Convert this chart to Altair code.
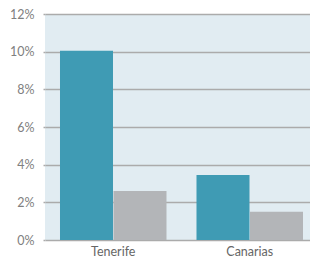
import altair as alt
import pandas as pd

categories = ["Tenerife", "Canarias"]
series = ["A", "B"]
values_a = [0.1005, 0.0345]
values_b = [0.026, 0.015]

rows = []
for i, c in enumerate(categories):
    rows.append({"cat": c, "serie": series[0], "val": values_a[i]})
    rows.append({"cat": c, "serie": series[1], "val": values_b[i]})
df = pd.DataFrame(rows)

chart = alt.Chart(df).mark_bar(size=53).encode(
    x=alt.X("cat:N", sort=categories, title=None,
            scale=alt.Scale(paddingInner=0.216, paddingOuter=0.108, range=[0, 273]),
            axis=alt.Axis(labelAngle=0, ticks=False, domain=False, grid=False,
                          labelColor="#666666",
                          labelFont="Lato", labelFontSize=12.5, labelPadding=5)),
    xOffset=alt.XOffset("serie:N", sort=series, scale=alt.Scale(paddingInner=0, paddingOuter=0)),
    y=alt.Y("val:Q", title=None,
            scale=alt.Scale(domain=[0, 0.12], nice=False),
            axis=alt.Axis(format=".0%", values=[0, 0.02, 0.04, 0.06, 0.08, 0.10, 0.12],
                          domain=False, tickSize=2, tickColor="#ABABAB", tickWidth=1.5,
                          grid=True, gridColor="#ABABAB", gridWidth=1.5,
                          labelColor="#808080", labelFont="Lato", labelFontSize=12.5,
                          labelPadding=9)),
    color=alt.Color("serie:N", sort=series,
                    scale=alt.Scale(domain=series, range=["#3F9BB4", "#B3B5B8"]),
                    legend=None),
).properties(
    width=265, height=226,
    autosize=alt.AutoSizeParams(type="none"),
    padding={"left": 37, "top": 6, "right": 0, "bottom": 22},
).configure_view(fill="#E1ECF2", stroke=None)

chart.save("out.html", embed_options={"renderer": "svg", "actions": False})
